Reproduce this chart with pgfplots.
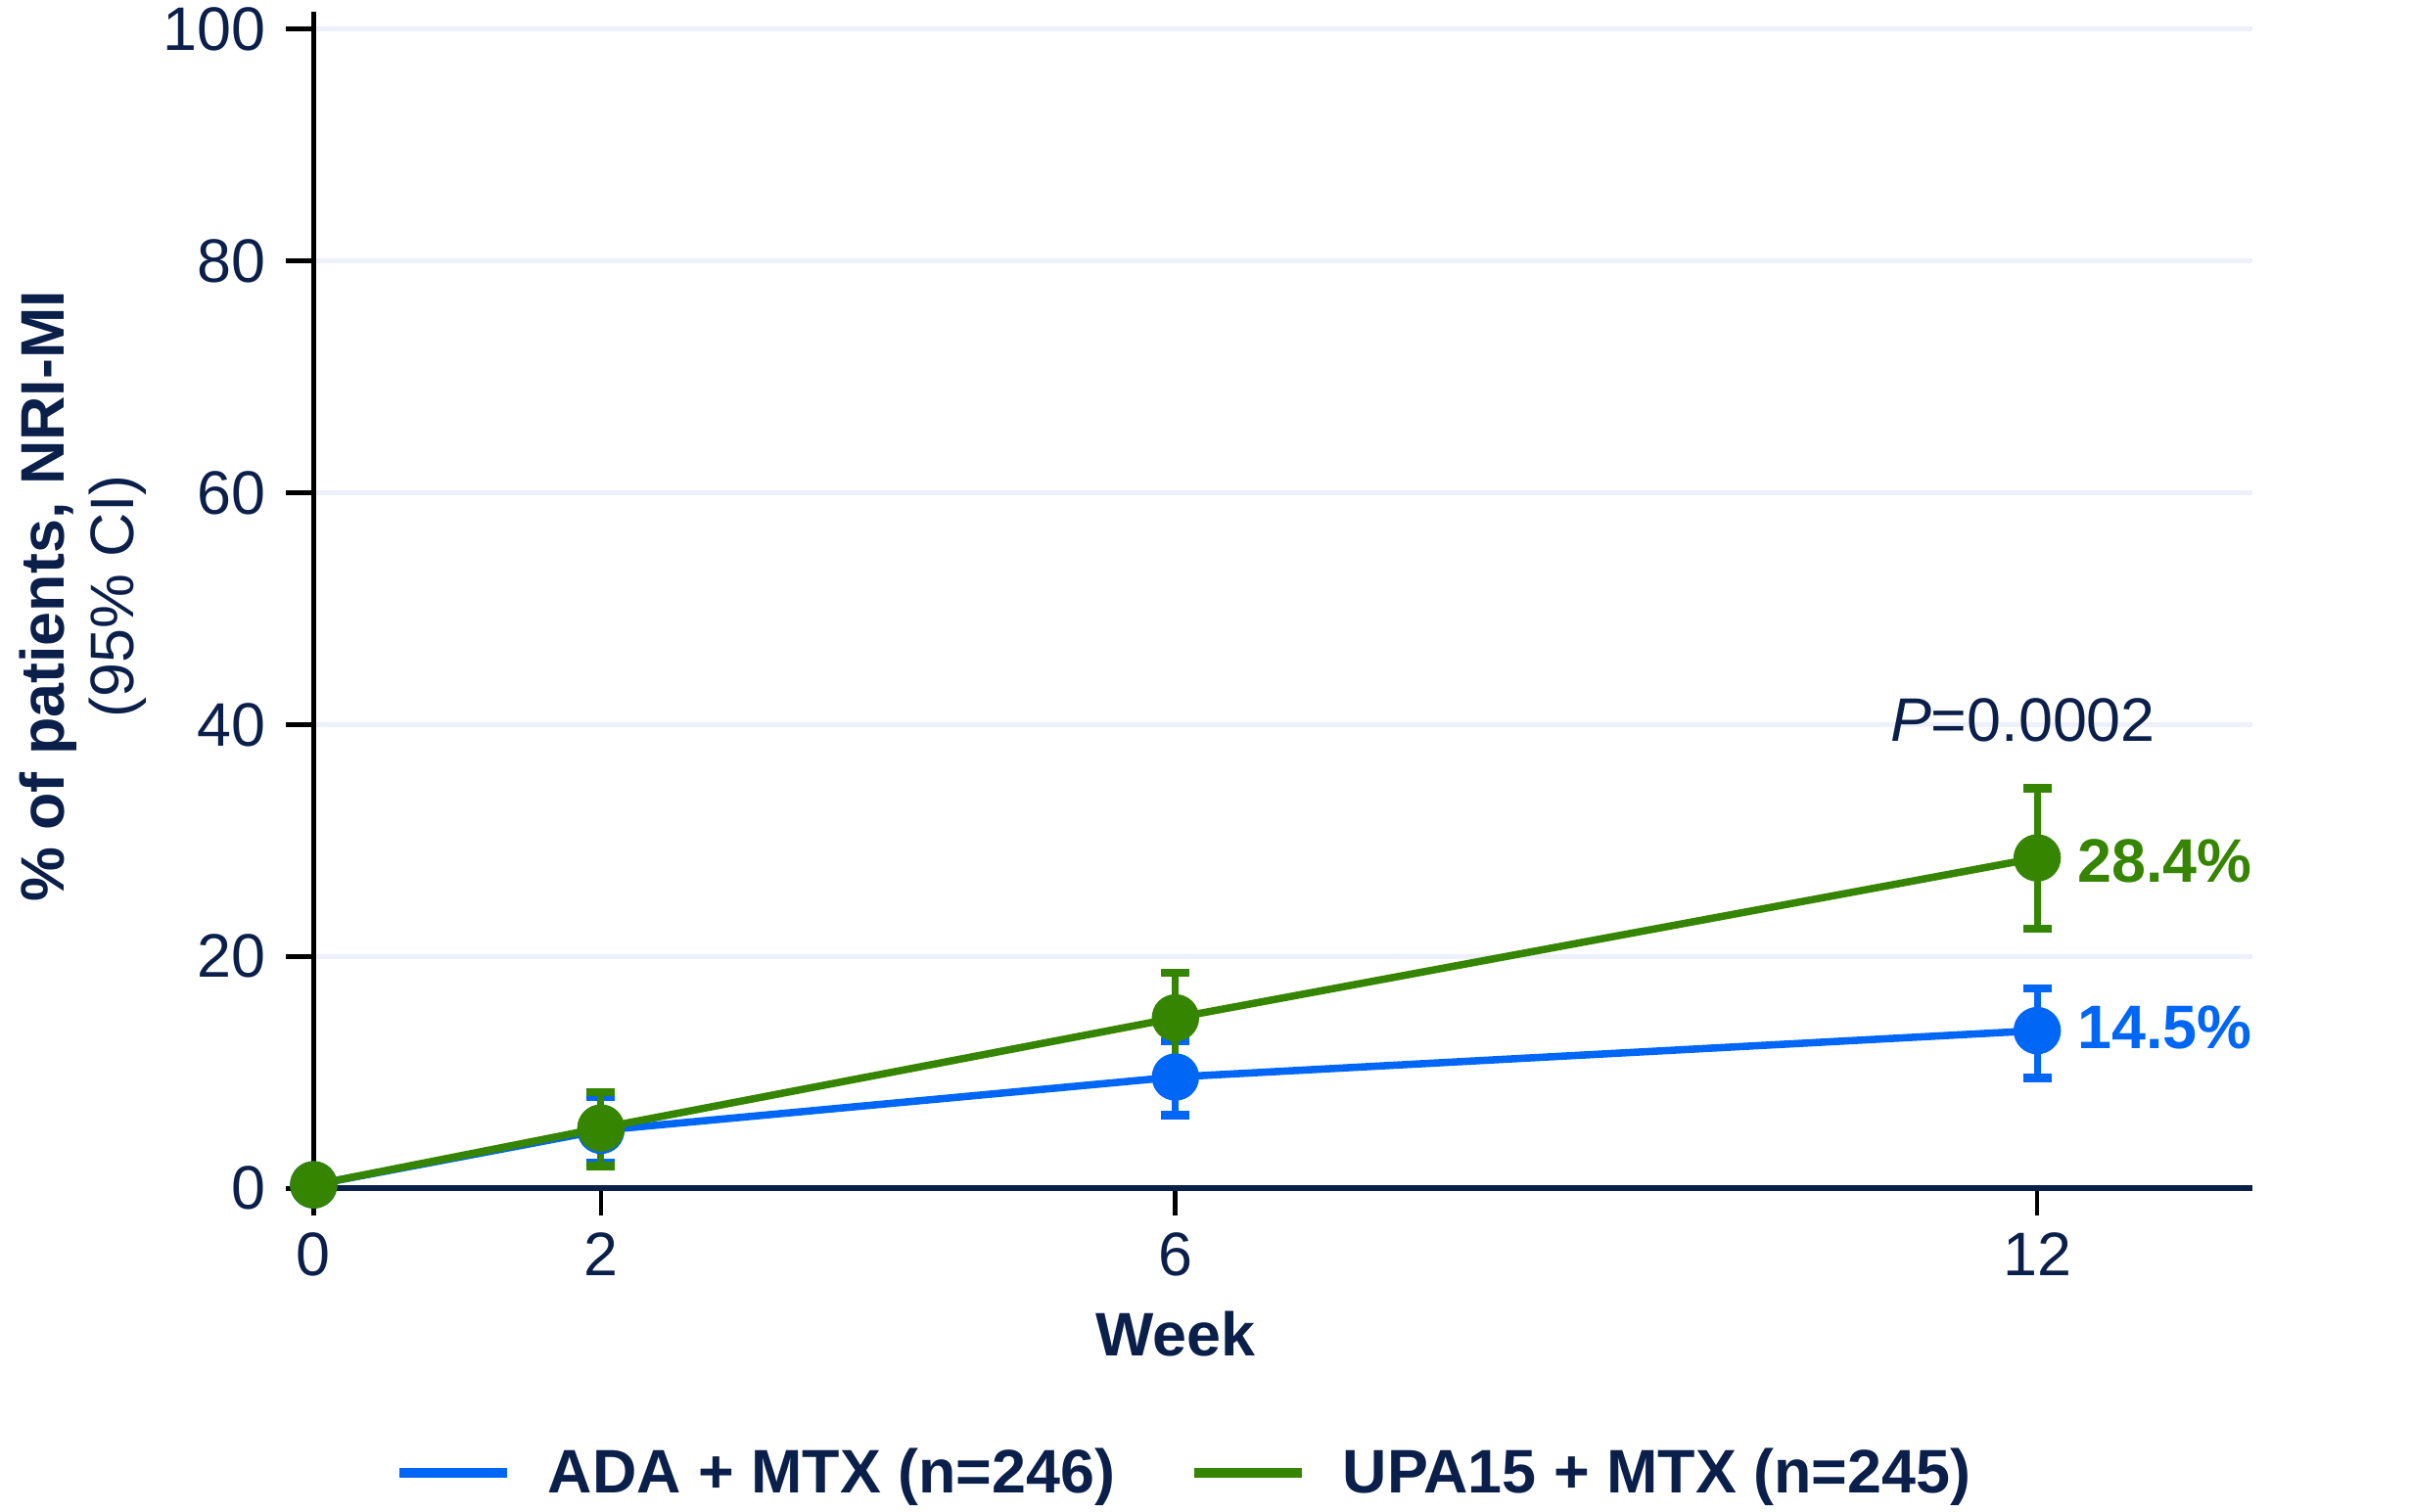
\documentclass[border=0pt]{standalone}
\usepackage{fontspec}
\setmainfont{Liberation Sans}
\usepackage{pgfplots}
\usepackage{pgfplotstable}
\pgfplotsset{compat=1.18}
\definecolor{navy}{HTML}{0B1F4B}
\definecolor{adablue}{HTML}{0066F5}
\definecolor{upagreen}{HTML}{368500}
\definecolor{gridc}{HTML}{EEF0FB}

\pgfplotstableread{
x y ep em
0 0.3 0 0
2 5.0 2.9 2.8
6 9.6 3.1 3.3
12 13.6 3.65 4.1
}\ada
\pgfplotstableread{
x y ep em
0 0.3 0 0
2 5.2 3.1 3.3
6 14.7 3.9 3.9
12 28.5 6.0 6.1
}\upa

\begin{document}
\begin{tikzpicture}
\begin{axis}[
  name=ax,
  scale only axis, width=630.5pt, height=382.7pt,
  xmin=0, xmax=13.5, ymin=0, ymax=101.5,
  axis lines=left, axis line style={-},
  x axis line style={navy, line width=2pt},
  y axis line style={black, line width=1.5pt},
  xtick={0,2,6,12}, ytick={0,20,40,60,80,100},
  tick align=outside, major tick length=9pt,
  tick style={black, line width=1.5pt},
  ymajorgrids, grid style={gridc, line width=1.5pt},
  font=\fontsize{20}{24}\selectfont,
  ticklabel style={font=\fontsize{20}{24}\selectfont, text=navy},
  yticklabel style={xshift=-3pt},
  xticklabel style={yshift=-2pt},
  /pgf/number format/assume math mode=true,
  clip=false,
  legend columns=2,
  legend style={at={(axis description cs:0.4497,-0.2417)}, anchor=center, draw=none,
    font=\bfseries\fontsize{20}{24}\selectfont, text=navy,
    /tikz/every odd column/.append style={column sep=10pt},
    /tikz/every even column/.append style={column sep=22pt}},
  legend image code/.code={\draw[#1, mark=none, line width=3pt] (0pt,0pt) -- (35pt,0pt);},
]
\addplot[adablue, line width=2.4pt, mark=*, mark size=6.5pt, mark options={solid},
  error bars/.cd, y dir=both, y explicit, error mark=|,
  error bar style={adablue, line width=2.2pt},
  error mark options={adablue, mark size=4.6pt, line width=2.7pt}]
  table[x=x, y=y, y error plus=ep, y error minus=em] {\ada};
\addlegendentry{ADA + MTX (n=246)}
\addplot[upagreen, line width=2.4pt, mark=*, mark size=6.5pt, mark options={solid},
  error bars/.cd, y dir=both, y explicit, error mark=|,
  error bar style={upagreen, line width=2.2pt},
  error mark options={upagreen, mark size=4.6pt, line width=2.7pt}]
  table[x=x, y=y, y error plus=ep, y error minus=em] {\upa};
\addlegendentry{UPA15 + MTX (n=245)}
\node[anchor=west, inner sep=0pt, text=upagreen, font=\bfseries\fontsize{20}{24}\selectfont] at (axis cs:12,28.2) [xshift=13pt] {28.4\%};
\node[anchor=west, inner sep=0pt, text=adablue, font=\bfseries\fontsize{20}{24}\selectfont] at (axis cs:12,13.9) [xshift=13pt] {14.5\%};
\node[inner sep=0pt, text=navy, font=\fontsize{20}{24}\selectfont] at (axis cs:11.9,40.4) {\textit{P}=0.0002};
\node[inner sep=0pt, text=navy, font=\bfseries\fontsize{20}{24}\selectfont] at (axis cs:6,0) [yshift=-47.5pt] {Week};
\end{axis}
\node[rotate=90, align=center, text=navy, inner sep=0pt, font=\fontsize{20}{22.5}\selectfont]
  at ([shift={(-75pt,192.5pt)}]ax.south west) {\textbf{\% of patients, NRI-MI}\\(95\% CI)};
\pgfresetboundingbox
\path[use as bounding box] ([shift={(-102pt,-105pt)}]ax.south west) rectangle ([shift={(682pt,386.5pt)}]ax.south west);
\end{tikzpicture}
\end{document}
